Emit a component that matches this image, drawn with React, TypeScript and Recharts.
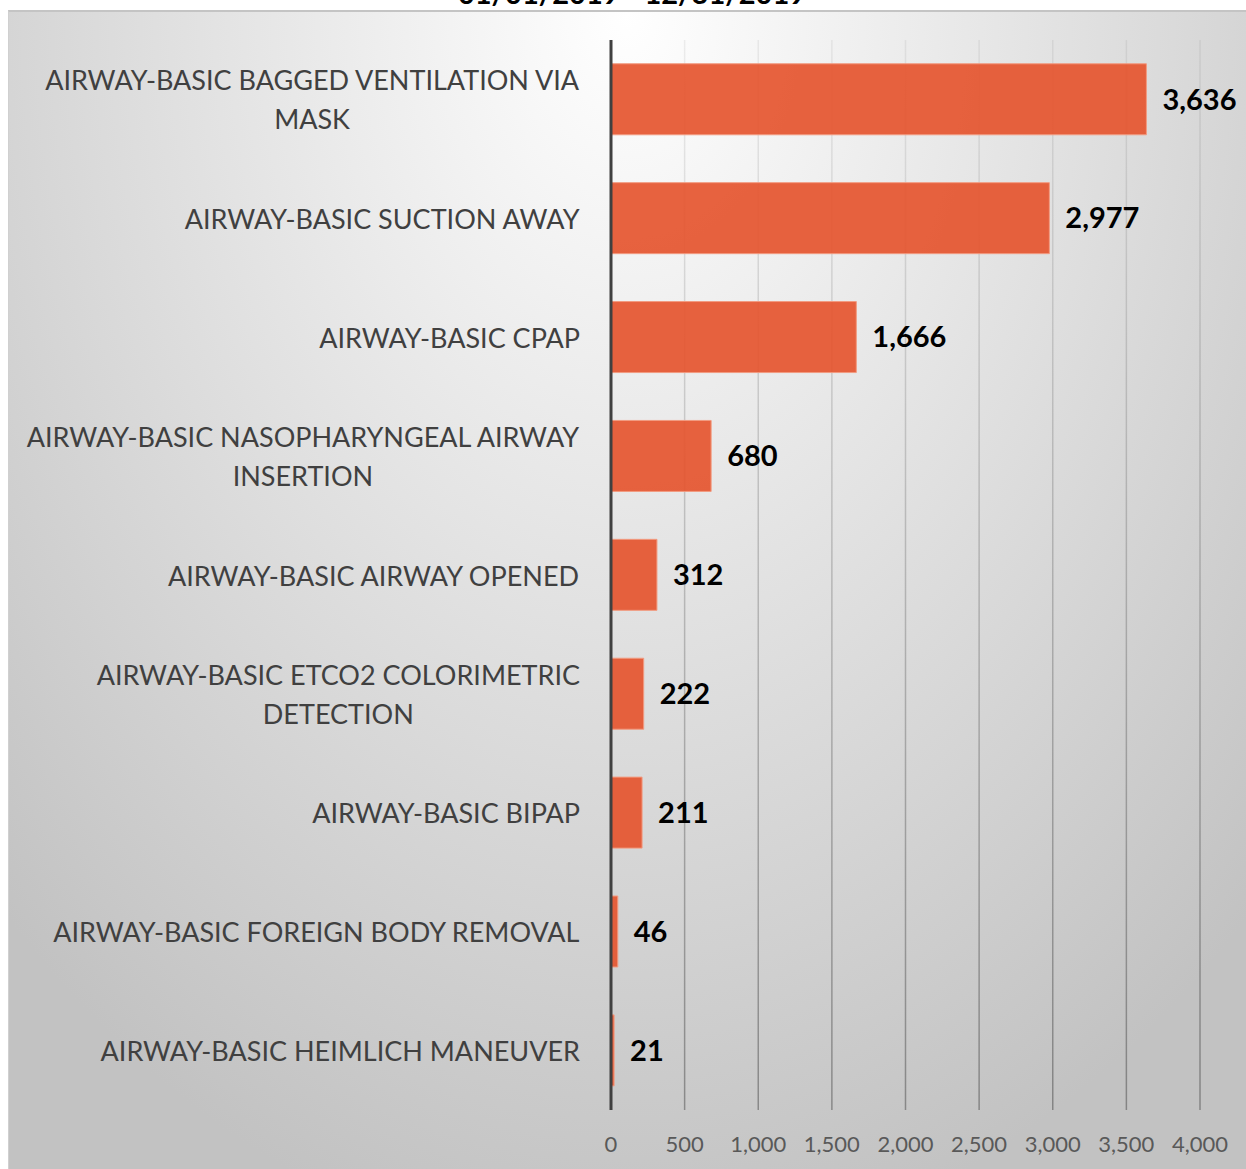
import { BarChart, Bar, XAxis, YAxis, CartesianGrid, LabelList } from 'recharts';

// categories top to bottom, "\n" marks where the label wraps
const categories = [
  'AIRWAY-BASIC BAGGED VENTILATION VIA\nMASK',
  'AIRWAY-BASIC SUCTION AWAY',
  'AIRWAY-BASIC CPAP',
  'AIRWAY-BASIC NASOPHARYNGEAL AIRWAY\nINSERTION',
  'AIRWAY-BASIC AIRWAY OPENED',
  'AIRWAY-BASIC ETCO2 COLORIMETRIC\nDETECTION',
  'AIRWAY-BASIC BIPAP',
  'AIRWAY-BASIC FOREIGN BODY REMOVAL',
  'AIRWAY-BASIC HEIMLICH MANEUVER',
];
const counts = [3636, 2977, 1666, 680, 312, 222, 211, 46, 21];
const xTicks = [0, 500, 1000, 1500, 2000, 2500, 3000, 3500, 4000];
const title = '01/01/2019 - 12/31/2019';

const FONT = 'Lato, "Open Sans", sans-serif';
const CAT_SIZE = 27;
const LINE_GAP = 39;

const data = categories.map((name, i) => ({ name, value: counts[i] }));

let ctx: CanvasRenderingContext2D | null = null;
const measure = (text: string) => {
  if (!ctx) ctx = document.createElement('canvas').getContext('2d');
  if (!ctx) return text.length * CAT_SIZE * 0.6;
  ctx.font = `${CAT_SIZE}px Lato`;
  return ctx.measureText(text).width;
};

const CategoryTick = (props: any) => {
  const { x, y, payload } = props;
  const lines: string[] = String(payload.value).split('\n');
  const widest = Math.max(...lines.map(measure));
  const cx = x - widest / 2;
  const startY = y - ((lines.length - 1) * LINE_GAP) / 2;
  return (
    <g>
      {lines.map((line, i) => (
        <text
          key={i}
          x={cx}
          y={startY + i * LINE_GAP}
          textAnchor="middle"
          dominantBaseline="central"
          fontFamily={FONT}
          fontSize={CAT_SIZE}
          fill="#404040"
        >
          {line}
        </text>
      ))}
    </g>
  );
};

const ValueTick = (props: any) => {
  const { x, y, payload } = props;
  return (
    <text x={x} y={y} textAnchor="middle" dominantBaseline="central" fontFamily={FONT} fontSize={22} fill="#595959">
      {Number(payload.value).toLocaleString('en-US')}
    </text>
  );
};

export default function App() {
  return (
    <div style={{ position: 'absolute', left: 0, top: 0, width: 1246, height: 1169, overflow: 'hidden' }}>
      <div
        style={{
          position: 'absolute',
          left: 8,
          top: 10,
          width: 1238,
          height: 1159,
          borderTop: '2px solid #c4c4c4',
          borderLeft: '1px solid #d0d0d0',
          boxSizing: 'border-box',
          background: 'radial-gradient(ellipse 900px 1250px at 50% 0%, #ffffff 0%, #c2c2c2 100%)',
        }}
      />
      <svg width={1246} height={10} style={{ position: 'absolute', left: 0, top: 0 }}>
        <text x={632} y={4} textAnchor="middle" fontFamily={FONT} fontWeight="bold" fontSize={29} fill="#000">
          {title}
        </text>
      </svg>
      <div style={{ position: 'absolute', left: 0, top: 0 }}>
        <BarChart
          width={1246}
          height={1169}
          data={data}
          layout="vertical"
          margin={{ top: 40, right: 46, left: 0, bottom: 0 }}
          barCategoryGap="20%"
        >
          <defs>
            <linearGradient id="gridGrad" gradientUnits="userSpaceOnUse" x1="0" y1="40" x2="0" y2="1110">
              <stop offset="0%" stopColor="#000" stopOpacity={0.06} />
              <stop offset="100%" stopColor="#000" stopOpacity={0.32} />
            </linearGradient>
          </defs>
          <CartesianGrid horizontal={false} stroke="url(#gridGrad)" strokeWidth={1.5} />
          <XAxis
            type="number"
            domain={[0, 4000]}
            ticks={xTicks}
            height={59}
            axisLine={false}
            tickLine={false}
            tickSize={6}
            tickMargin={27}
            tick={<ValueTick />}
            interval={0}
          />
          <YAxis
            type="category"
            dataKey="name"
            width={611}
            axisLine={{ stroke: '#404040', strokeWidth: 3 }}
            tickLine={false}
            tickSize={6}
            tickMargin={25}
            tick={<CategoryTick />}
            interval={0}
          />
          <Bar dataKey="value" fill="#E5552F" fillOpacity={0.92} stroke="#F29B80" strokeWidth={1} isAnimationActive={false}>
            <LabelList
              dataKey="value"
              position="right"
              offset={16}
              formatter={(v: any) => Number(v).toLocaleString('en-US')}
              style={{ fontFamily: FONT, fontSize: 29, fontWeight: 'bold', fill: '#000' }}
            />
          </Bar>
        </BarChart>
      </div>
    </div>
  );
}
